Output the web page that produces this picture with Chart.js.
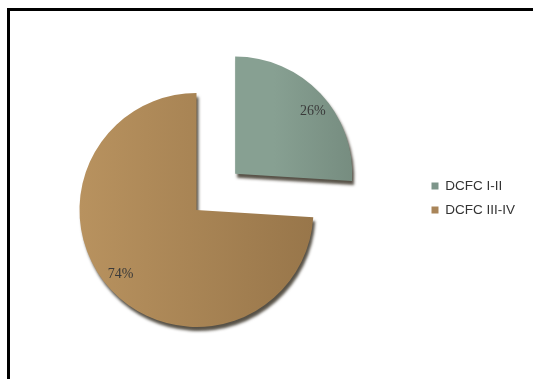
<!DOCTYPE html>
<html lang="en">
<head>
<meta charset="UTF-8">
<title>DCFC</title>
<script src="https://cdn.jsdelivr.net/npm/chart.js@4.4.1/dist/chart.umd.min.js"></script>
<style>
  body { margin: 0; background: #fff; overflow: hidden; }
  .frame { position: relative; width: 533px; height: 379px; overflow: hidden; }
  .rule { position: absolute; background: #000; }
  .rule.top { left: 7px; top: 8px; width: 526px; height: 3px; }
  .rule.left { left: 7px; top: 8px; width: 3px; height: 371px; }
  canvas { position: absolute; left: 0; top: 0; }
</style>
</head>
<body>
<div class="frame">
  <div class="rule top"></div>
  <div class="rule left"></div>
  <canvas id="stageChart" width="533" height="379"></canvas>
</div>
<script>
  const categories = ['DCFC I-II', 'DCFC III-IV'];
  const shares = [26, 74];

  // slice look
  const flatColors = ['#7d958a', '#a98559'];
  const gradStops = [['#87a092', '#6e8377'], ['#b8925f', '#98764a']];
  const pulls = [212, 0];      // Chart.js shifts an arc by offset / 4
  const RADIUS = 117;

  function midAngle(i) {
    const total = shares.reduce((a, b) => a + b, 0);
    let before = 0;
    for (let k = 0; k < i; k++) before += shares[k];
    return -Math.PI / 2 + (before + shares[i] / 2) / total * 2 * Math.PI;
  }

  // left-to-right shading across each slice
  function sliceFill(c) {
    const ca = c.chart.chartArea;
    const i = c.dataIndex;
    if (!ca) return flatColors[i];
    const cx = (ca.left + ca.right) / 2 + Math.cos(midAngle(i)) * pulls[i] / 4;
    const x0 = pulls[i] ? cx : cx - RADIUS;
    const g = c.chart.ctx.createLinearGradient(x0, 0, cx + RADIUS, 0);
    g.addColorStop(0, gradStops[i][0]);
    g.addColorStop(1, gradStops[i][1]);
    return g;
  }

  // dark rim under the slices
  const sideShadow = {
    id: 'sideShadow',
    beforeDatasetsDraw(chart) {
      const ctx = chart.ctx;
      ctx.save();
      ctx.shadowColor = 'rgba(45,38,25,0.8)';
      ctx.shadowOffsetX = 2;
      ctx.shadowOffsetY = 4;
      ctx.shadowBlur = 3;
    },
    afterDatasetsDraw(chart) {
      chart.ctx.restore();
    }
  };

  // percentage text inside each slice
  const shareLabels = {
    id: 'shareLabels',
    afterDatasetsDraw(chart) {
      const ctx = chart.ctx;
      const total = shares.reduce((a, b) => a + b, 0);
      ctx.save();
      ctx.font = "14px 'Liberation Serif', 'Times New Roman', serif";
      ctx.fillStyle = '#3a3a3a';
      ctx.textAlign = 'center';
      ctx.textBaseline = 'middle';
      chart.getDatasetMeta(0).data.forEach((arc, i) => {
        const p = arc.getProps(['x', 'y', 'startAngle', 'endAngle', 'outerRadius'], true);
        const mid = (p.startAngle + p.endAngle) / 2 + 0.05;
        const d = (arc.options.offset || 0) / 4 + p.outerRadius * 0.85;
        const pct = Math.round(shares[i] / total * 100) + '%';
        ctx.fillText(pct, p.x + Math.cos(mid) * d, p.y + Math.sin(mid) * d);
      });
      ctx.restore();
    }
  };

  // legend sits in the right margin, a bit above the pie centre
  const legendSpot = {
    id: 'legendSpot',
    afterLayout(chart) {
      const lg = chart.legend;
      lg.left = 421;
      lg.right = 533;
      lg.width = lg.right - lg.left;
      lg.top -= 12;
      lg.bottom -= 12;
    }
  };

  new Chart(document.getElementById('stageChart'), {
    type: 'pie',
    data: {
      labels: categories,
      datasets: [{
        data: shares,
        backgroundColor: sliceFill,
        borderWidth: 0,
        offset: pulls,
        radius: RADIUS
      }]
    },
    options: {
      responsive: false,
      animation: false,
      events: [],
      layout: { padding: { left: 19, right: 158, top: 43, bottom: 2 } },
      plugins: {
        tooltip: { enabled: false },
        legend: {
          position: 'right',
          maxWidth: 1,
          labels: {
            boxWidth: 7,
            boxHeight: 7,
            padding: 10.5,
            color: '#333',
            font: { family: "'Liberation Sans', Arial, sans-serif", size: 13.5 },
            generateLabels(chart) {
              return Chart.overrides.doughnut.plugins.legend.labels.generateLabels(chart)
                .map((it, i) => ({ ...it, fillStyle: flatColors[i], strokeStyle: flatColors[i], lineWidth: 0 }));
            }
          }
        }
      }
    },
    plugins: [sideShadow, shareLabels, legendSpot]
  });
</script>
</body>
</html>
